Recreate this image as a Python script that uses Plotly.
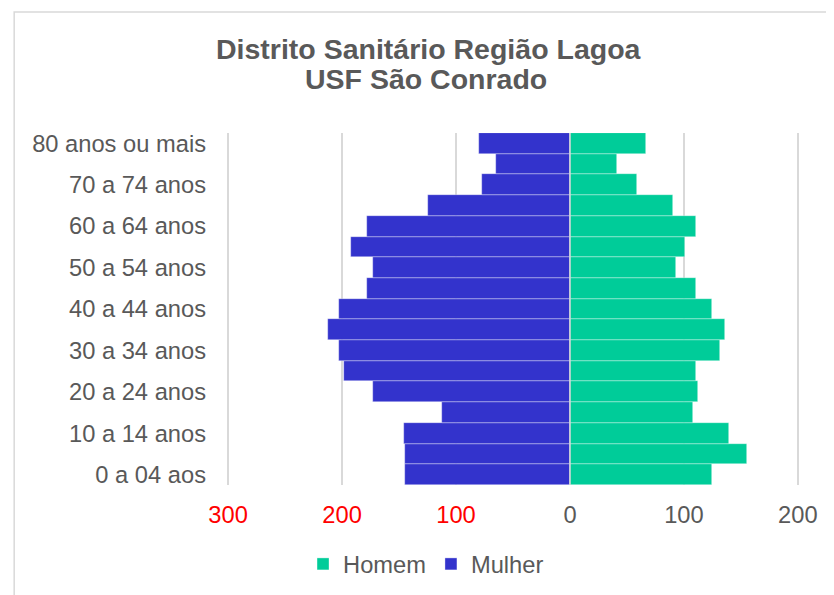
import plotly.graph_objects as go

age_groups = [
    "0 a 04 aos", "05 a 09 anos", "10 a 14 anos", "15 a 19 anos",
    "20 a 24 anos", "25 a 29 anos", "30 a 34 anos", "35 a 39 anos",
    "40 a 44 anos", "45 a 49 anos", "50 a 54 anos", "55 a 59 anos",
    "60 a 64 anos", "65 a 69 anos", "70 a 74 anos", "75 a 79 anos",
    "80 anos ou mais",
]
homem = [125, 155, 140, 108, 112, 111, 132, 136, 125, 111, 93, 101, 111, 90, 59, 41, 67]
mulher = [145, 145, 146, 112, 173, 198, 203, 212, 203, 178, 173, 192, 178, 125, 77, 65, 80]

x_tickvals = [-300, -200, -100, 0, 100, 200]
x_ticktext = ['<span style="color:#FF0000">300</span>',
              '<span style="color:#FF0000">200</span>',
              '<span style="color:#FF0000">100</span>',
              "0", "100", "200"]
y_tickvals = age_groups[::2]

title_line1 = "Distrito Sanitário Região Lagoa"
title_line2 = "USF São Conrado"

FONT = "Liberation Sans, Arial, sans-serif"
GRAY = "#595959"
TICK_SIZE = 23.7

fig = go.Figure()
fig.add_trace(go.Bar(
    y=age_groups, x=homem, name="Homem", orientation="h",
    marker=dict(color="#00CC99", line=dict(color="rgba(255,255,255,0.6)", width=0.6)),
))
fig.add_trace(go.Bar(
    y=age_groups, x=[-v for v in mulher], name="Mulher", orientation="h",
    marker=dict(color="#3333CC", line=dict(color="rgba(255,255,255,0.6)", width=0.6)),
))

# page body has an 8px default margin: work in page pixels, convert to figure pixels
OFF = 8
W, H = 826, 587
# plot area in page pixels (x range slightly padded so edge gridlines show)
PX0, PX1 = 226.9, 799.1
PY0, PY1 = 133, 485
L = PX0 - OFF
T = PY0 - OFF
R = W - (PX1 - OFF)
B = H - (PY1 - OFF)
pw, ph = PX1 - PX0, PY1 - PY0

def px_x(p):
    return (p - PX0) / pw

def px_y(p):
    return (PY1 - p) / ph

fig.update_layout(
    width=W, height=H,
    margin=dict(l=L, r=R, t=T, b=B, pad=0, autoexpand=False),
    barmode="relative", bargap=0,
    paper_bgcolor="white", plot_bgcolor="white",
    font=dict(family=FONT, size=TICK_SIZE, color=GRAY),
    showlegend=True,
    legend=dict(orientation="h", x=px_x(426), xanchor="center",
                y=px_y(564), yanchor="middle",
                font=dict(family=FONT, size=TICK_SIZE, color=GRAY),
                traceorder="normal"),
    xaxis=dict(range=[-301, 201], tickvals=x_tickvals, ticktext=x_ticktext,
               showgrid=True, gridcolor="#d9d9d9", gridwidth=1.5,
               zeroline=False, showline=False, ticks="",
               ticklabelstandoff=13,
               tickfont=dict(family=FONT, size=TICK_SIZE, color=GRAY)),
    yaxis=dict(type="category", categoryorder="array", categoryarray=age_groups,
               tickvals=y_tickvals, showgrid=False, zeroline=False,
               showline=False, ticks="", ticklabelstandoff=20,
               tickfont=dict(family=FONT, size=TICK_SIZE, color=GRAY)),
    annotations=[
        dict(text="<b>%s</b>" % title_line1, xref="paper", yref="paper",
             x=px_x(429), y=px_y(49.5), xanchor="center", yanchor="middle",
             showarrow=False, font=dict(family=FONT, size=28.5, color=GRAY)),
        dict(text="<b>%s</b>" % title_line2, xref="paper", yref="paper",
             x=px_x(426), y=px_y(79), xanchor="center", yanchor="middle",
             showarrow=False, font=dict(family=FONT, size=28.5, color=GRAY)),
    ],
    shapes=[
        dict(type="line", xref="x", yref="paper", x0=0, x1=0, y0=0, y1=1,
             line=dict(color="#d9d9d9", width=1.5), layer="above"),
        dict(type="rect", xref="paper", yref="paper",
             x0=px_x(14), x1=px_x(845), y0=px_y(605), y1=px_y(12),
             line=dict(color="#d9d9d9", width=1.5), layer="below"),
    ],
)

fig.write_html("out.html")
